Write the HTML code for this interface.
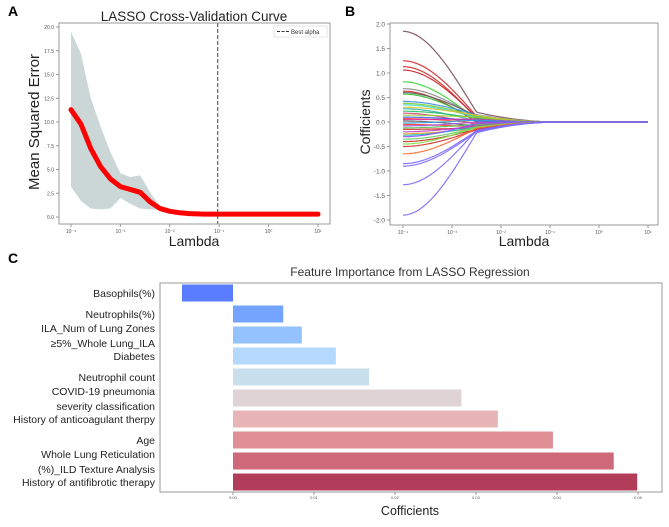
<!DOCTYPE html>
<html><head><meta charset="utf-8"><style>
body{margin:0;background:#fff;font-family:"Liberation Sans",sans-serif}
svg text{font-family:"Liberation Sans",sans-serif}
</style></head><body>
<svg id="s" width="669" height="522" xmlns="http://www.w3.org/2000/svg">
<text x="8" y="16" font-size="14" font-weight="bold">A</text>
<text x="345" y="16" font-size="14" font-weight="bold">B</text>
<text x="8" y="263" font-size="14" font-weight="bold">C</text>
<text x="194" y="21" font-size="13.5" text-anchor="middle" fill="#222">LASSO Cross-Validation Curve</text>
<text x="194" y="246" font-size="14" text-anchor="middle" fill="#222">Lambda</text>
<text transform="translate(39,122) rotate(-90)" font-size="15" text-anchor="middle" fill="#222">Mean Squared Error</text>
<text x="524" y="246" font-size="14" text-anchor="middle" fill="#222">Lambda</text>
<text transform="translate(370,122) rotate(-90)" font-size="14" text-anchor="middle" fill="#222">Cofficients</text>
<text x="410" y="276" font-size="12" text-anchor="middle" fill="#333">Feature Importance from LASSO Regression</text>
<text x="410" y="515" font-size="12.5" text-anchor="middle" fill="#222">Cofficients</text>
<g id="ga"></g><g id="gb"></g><g id="gc"></g>
</svg>
<script>
// Panel A data
const cvLogLambda=[-4,-3.8,-3.6,-3.4,-3.2,-3,-2.8,-2.6,-2.4,-2.2,-2,-1.8,-1.6,-1.3,-1,0,1];
const cvMean=[11.3,9.8,7.2,5.3,4.0,3.2,2.9,2.6,1.6,0.9,0.6,0.45,0.35,0.3,0.3,0.3,0.3];
const cvUpper=[19.5,17.2,12.5,9.5,6.8,4.6,4.2,4.4,2.6,1.1,0.75,0.5,0.4,0.32,0.3,0.3,0.3];
const cvLower=[3.2,1.7,0.9,0.8,0.9,2.0,1.4,0.9,0.8,0.75,0.45,0.4,0.3,0.28,0.3,0.3,0.3];
const aYTicks=[0,2.5,5,7.5,10,12.5,15,17.5,20];
const bestLogAlpha=-1.03;
const logTicks=[-4,-3,-2,-1,0,1];
const logTickLabels=["10⁻⁴","10⁻³","10⁻²","10⁻¹","10⁰","10¹"];
// Panel B data
const coefStart=[1.85,1.25,1.13,1.06,0.82,0.68,0.63,0.6,0.57,0.42,0.38,0.35,0.3,0.27,0.22,0.18,0.14,0.1,0.07,0.05,0.02,-0.02,-0.05,-0.08,-0.12,-0.15,-0.2,-0.24,-0.27,-0.3,-0.35,-0.4,-0.45,-0.5,-0.65,-0.85,-0.9,-1.28,-1.9];
const coefMid=[0.2,0.12,0.08,0.1,0.05,0.1,0.0,0.12,0.05,0.15,0.12,0.1,0.14,0.02,0.08,-0.05,0.1,0.03,-0.02,0.06,-0.08,0.04,-0.1,0.0,-0.05,-0.12,-0.08,-0.13,-0.1,-0.03,-0.12,-0.15,-0.1,-0.16,-0.13,-0.18,-0.2,-0.17,-0.22];
const coefColors=["#7a4a55","#d0282c","#d0282c","#c8262a","#3ad33a","#8a8a8a","#c8262a","#5a5a5a","#30c030","#3a8ee6","#7acc30","#40d9c0","#e0c030","#30b0a0","#20c060","#d04080","#a0d030","#3060e0","#ff5030","#e030a0","#606060","#30a0e0","#ff4020","#a050e0","#50c050","#d02020","#c040c0","#e6a020","#20c0c0","#9050ff","#60d060","#c0302a","#80e040","#d03030","#ff6a30","#7a6aff","#7a6aff","#7a6aff","#7a6aff"];
// Panel C data
const features=["Basophils(%)","Neutrophils(%)","ILA_Num of Lung Zones|≥5%_Whole Lung_ILA","Diabetes","Neutrophil count","COVID-19 pneumonia|severity classification","History of anticoagulant therpy","Age","Whole Lung Reticulation|(%)_ILD Texture Analysis","History of antifibrotic therapy"];
const importance=[-0.0063,0.0062,0.0085,0.0127,0.0168,0.0282,0.0327,0.0395,0.0470,0.0499];
const barColors=["#5a7dff","#74a4ff","#94c2ff","#b4d8ff","#c9dfec","#dfd3d6","#e8b5b6","#e08f96","#cf6878","#b23d5a"];
const cTicks=[0,0.01,0.02,0.03,0.04,0.05];
const cTickLabels=["0.00","0.01","0.02","0.03","0.04","0.05"];

const NS="http://www.w3.org/2000/svg";
function mk(p,tag,at){const e=document.createElementNS(NS,tag);for(const k in at)e.setAttribute(k,at[k]);p.appendChild(e);return e;}

// ---- Panel A
const ga=document.getElementById('ga');
const ax=v=>71+(v+4)*49.4, ay=v=>217-v*9.5;
let band=cvLogLambda.map((t,i)=>ax(t)+','+ay(cvUpper[i])).join(' ')+' '+cvLogLambda.map((t,i)=>ax(t)+','+ay(cvLower[i])).reverse().join(' ');
let e=mk(ga,'polygon',{points:band,fill:'#cbd6d6'});

e=mk(ga,'polyline',{points:cvLogLambda.map((t,i)=>ax(t)+','+ay(cvMean[i])).join(' '),fill:'none',stroke:'#ff0000','stroke-width':5,'stroke-linejoin':'round','stroke-linecap':'round'});

e=mk(ga,'line',{x1:ax(bestLogAlpha),x2:ax(bestLogAlpha),y1:23,y2:224,stroke:'#444','stroke-dasharray':'4,2','stroke-width':1});

e=mk(ga,'rect',{x:59,y:23,width:271,height:201,fill:'none',stroke:'#999'});

e=mk(ga,'rect',{x:274,y:26,width:53,height:11,fill:'#fff',stroke:'#ccc','stroke-width':0.5});

mk(ga,'line',{x1:277,x2:289,y1:31.5,y2:31.5,stroke:'#333','stroke-dasharray':'3,1.5'});
e=mk(ga,'text',{x:291,y:34,'font-size':6,fill:'#333'});e.textContent='Best alpha';

aYTicks.forEach(v=>{mk(ga,'line',{x1:56,x2:59,y1:ay(v),y2:ay(v),stroke:'#999'});
 const t=mk(ga,'text',{x:54,y:ay(v)+2,'font-size':5,'text-anchor':'end',fill:'#555'});t.textContent=v.toFixed(1);
 });
logTicks.forEach((v,i)=>{mk(ga,'line',{x1:ax(v),x2:ax(v),y1:224,y2:227,stroke:'#999'});
 const t=mk(ga,'text',{x:ax(v),y:233,'font-size':5,'text-anchor':'middle',fill:'#555'});t.textContent=logTickLabels[i];
 });

// ---- Panel B
const gb=document.getElementById('gb');
const bx=v=>403+(v+4)*49, by=v=>122-v*49;
e=mk(gb,'rect',{x:390,y:23,width:268,height:202,fill:'none',stroke:'#999'});

coefStart.forEach((s,i)=>{
 const pts=[];
 for(let t=-4;t<=1.001;t+=0.04){
  let c;
  if(t<=-2.5){const u=(t+4)/1.5;c=s+(coefMid[i]-s)*(u*u*(1.5-0.5*u));}
  else if(t<=-0.8){const v=(t+2.5)/1.7;c=coefMid[i]*(1-v)*(1-v);}
  else c=0;
  pts.push(bx(t).toFixed(1)+','+by(c).toFixed(1));
 }
 const p=mk(gb,'polyline',{points:pts.join(' '),fill:'none',stroke:coefColors[i],'stroke-width':1.2,opacity:0.9,'stroke-linejoin':'round'});
 
 
});
[-2,-1.5,-1,-0.5,0,0.5,1,1.5,2].forEach(v=>{mk(gb,'line',{x1:387,x2:390,y1:by(v),y2:by(v),stroke:'#999'});
 const t=mk(gb,'text',{x:385,y:by(v)+2.5,'font-size':6.5,'text-anchor':'end',fill:'#555'});t.textContent=v.toFixed(1);
 });
logTicks.forEach((v,i)=>{mk(gb,'line',{x1:bx(v),x2:bx(v),y1:225,y2:228,stroke:'#999'});
 const t=mk(gb,'text',{x:bx(v),y:234,'font-size':5,'text-anchor':'middle',fill:'#555'});t.textContent=logTickLabels[i];
 });

// ---- Panel C
const gc=document.getElementById('gc');
const cx=v=>233+v*8100, cy=i=>293+i*21;
e=mk(gc,'rect',{x:160,y:283,width:502,height:209,fill:'none',stroke:'#999'});

importance.forEach((v,i)=>{
 const x0=Math.min(cx(0),cx(v));
 const r=mk(gc,'rect',{x:x0,y:cy(i)-8.5,width:Math.abs(cx(v)-cx(0)),height:17,fill:barColors[i]});
 
 
 const lines=features[i].split('|');
 lines.forEach((L,j)=>{
  const y=lines.length===1?cy(i)+4:cy(i)+4+(j===0?-7:8);
  const t=mk(gc,'text',{x:155,y:y,'font-size':10.5,'text-anchor':'end',fill:'#222'});t.textContent=L;
  
  
 });
});
cTicks.forEach((v,i)=>{mk(gc,'line',{x1:cx(v),x2:cx(v),y1:492,y2:495,stroke:'#999'});
 const t=mk(gc,'text',{x:cx(v),y:499,'font-size':4,'text-anchor':'middle',fill:'#555'});t.textContent=cTickLabels[i];
 });
</script>
</body></html>
